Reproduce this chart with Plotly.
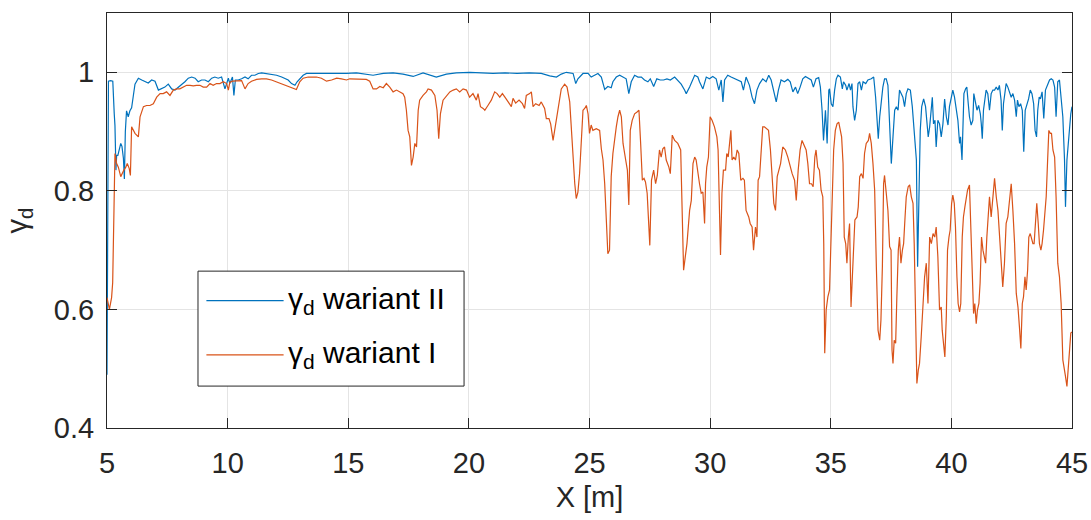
import plotly.graph_objects as go

# gamma_d, variant II (blue)
X_II = [5.00, 5.03, 5.06, 5.15, 5.24, 5.30, 5.33, 5.37, 5.40, 5.45, 5.50, 5.57, 5.62, 5.68, 5.72, 5.76, 5.81, 5.88,
        5.95, 6.02, 6.09, 6.16, 6.23, 6.30, 6.44, 6.57, 6.71, 6.85, 6.99, 7.13, 7.27, 7.40, 7.54, 7.68, 7.82, 7.96,
        8.09, 8.23, 8.37, 8.51, 8.65, 8.78, 8.92, 9.06, 9.20, 9.34, 9.47, 9.61, 9.75, 9.89, 10.03,
        10.09, 10.20, 10.26, 10.32, 10.44, 10.58, 10.72, 10.85, 10.99, 11.13, 11.27, 11.41, 11.61, 11.82, 12.03,
        12.24, 12.37, 12.51, 12.65, 12.79, 12.88, 12.99, 13.13, 13.27, 13.55, 13.82, 14.10, 14.38, 14.65, 14.93,
        15.34, 15.75, 16.03, 16.45, 16.86, 17.27, 17.69, 18.10, 18.65, 19.07, 19.48, 20.04,
        20.5, 21.0, 21.5, 22.0, 22.5, 23.0, 23.35, 23.63, 23.83, 24.04, 24.32, 24.43, 24.52, 24.73,
        24.94, 25.07, 25.21, 25.35, 25.49, 25.63, 25.76, 25.90, 25.97, 26.11, 26.25, 26.39, 26.52, 26.63, 26.73,
        26.87, 27.01, 27.15, 27.28, 27.42, 27.52, 27.66, 27.79, 27.93, 28.07, 28.21, 28.35, 28.53, 28.66, 28.80,
        28.94, 29.01, 29.15, 29.36, 29.49,
        29.56, 29.70, 29.84, 29.97, 30.11, 30.25, 30.36, 30.46, 30.53, 30.60, 30.73, 30.87, 31.01, 31.15, 31.29,
        31.38, 31.49, 31.63, 31.74, 31.84, 31.94, 32.05, 32.18, 32.32, 32.43, 32.53, 32.63, 32.74, 32.83, 32.94,
        33.08, 33.22, 33.32, 33.43, 33.54, 33.63, 33.73, 33.84, 33.95, 34.09, 34.19, 34.28, 34.39, 34.50, 34.57,
        34.64, 34.70, 34.78, 34.85, 34.92,
        34.95, 35.02, 35.09, 35.16, 35.23, 35.30, 35.40, 35.48, 35.53, 35.62, 35.67, 35.76, 35.82, 35.88, 35.92,
        35.99, 36.06, 36.13, 36.20, 36.27, 36.34, 36.45, 36.54, 36.68, 36.78, 36.86, 36.92, 36.97, 37.03, 37.10,
        37.16, 37.23, 37.30, 37.37, 37.44, 37.51, 37.58, 37.65, 37.72, 37.79, 37.85, 37.92, 37.99, 38.06, 38.13,
        38.20, 38.30, 38.38, 38.45, 38.50, 38.55, 38.60, 38.66, 38.71, 38.77, 38.85, 38.93, 38.99, 39.04, 39.10,
        39.15, 39.21, 39.26, 39.32, 39.37, 39.44,
        39.51, 39.58, 39.65, 39.72, 39.79, 39.86, 39.92, 39.99, 40.06, 40.13, 40.20, 40.27, 40.34, 40.38, 40.44,
        40.48, 40.52, 40.59, 40.64, 40.70, 40.75, 40.82, 40.89, 40.93, 40.99, 41.06, 41.13, 41.20, 41.24, 41.28,
        41.33, 41.39, 41.44, 41.51, 41.58, 41.65, 41.72, 41.79, 41.86, 41.93, 41.99, 42.06, 42.11, 42.16, 42.22,
        42.27, 42.34, 42.41, 42.48, 42.55, 42.62, 42.69, 42.74, 42.80, 42.87, 42.94, 43.00, 43.06, 43.13, 43.20,
        43.27, 43.34, 43.41, 43.47, 43.53, 43.58, 43.64, 43.69, 43.76, 43.83, 43.90, 43.96, 44.01, 44.07, 44.14,
        44.21, 44.28, 44.34, 44.41, 44.48, 44.55, 44.62, 44.69, 44.73, 44.79, 44.84, 44.90, 44.95, 45.00]
Y_II = [0.49, 0.95, 0.985, 0.986, 0.985, 0.93, 0.91, 0.835, 0.86, 0.86, 0.87, 0.88, 0.875, 0.855, 0.82, 0.90, 0.935,
        0.925, 0.935, 0.94, 0.96, 0.98, 0.985, 0.99, 0.987, 0.985, 0.982, 0.987, 0.985, 0.97, 0.972, 0.975, 0.98,
        0.972, 0.97, 0.975, 0.978, 0.984, 0.99, 0.992, 0.99, 0.984, 0.987, 0.987, 0.984, 0.99, 0.992, 0.99, 0.992,
        0.972, 0.99,
        0.981, 0.992, 0.961, 0.987, 0.987, 0.989, 0.992, 0.989, 0.995, 0.995, 0.998, 0.999, 0.998, 0.997, 0.995,
        0.992, 0.989, 0.987, 0.981, 0.978, 0.984, 0.989, 0.995, 0.998, 0.998, 0.997, 0.997, 0.998, 0.997, 0.998,
        0.999, 0.997, 0.995, 0.998, 0.999, 0.997, 0.993, 0.999, 0.992, 0.997, 0.999, 1.0,
        0.999, 0.998, 0.999, 0.998, 0.999, 0.998, 0.994, 0.992, 0.997, 1.0, 0.998, 0.981, 0.989, 0.998,
        0.998, 0.992, 0.995, 0.998, 0.992, 0.971, 0.976, 0.974, 0.984, 0.992, 0.995, 0.992, 0.989, 0.964, 0.984,
        0.995, 0.992, 0.992, 0.987, 0.984, 0.989, 0.976, 0.989, 0.987, 0.987, 0.989, 0.987, 0.992, 0.987, 0.980,
        0.970, 0.964, 0.975, 0.995, 0.992,
        0.984, 0.972, 0.992, 0.989, 0.993, 0.989, 0.970, 0.987, 0.950, 0.987, 0.995, 0.992, 0.989, 0.987, 0.984,
        0.970, 0.992, 0.978, 0.958, 0.947, 0.970, 0.981, 0.989, 0.984, 0.995, 0.987, 0.970, 0.950, 0.970, 0.987,
        0.984, 0.988, 0.984, 0.967, 0.975, 0.964, 0.975, 0.989, 0.993, 0.989, 0.987, 0.975, 0.989, 0.991, 0.975,
        0.936, 0.885, 0.936, 0.880, 0.970,
        0.972, 0.947, 0.942, 0.970, 0.989, 0.995, 0.992, 0.972, 0.984, 0.978, 0.970, 0.981, 0.970, 0.981, 0.942,
        0.919, 0.936, 0.981, 0.984, 0.970, 0.984, 0.981, 0.987, 0.989, 0.992, 0.958, 0.925, 0.888, 0.925, 0.953,
        0.975, 0.989, 0.989, 0.978, 0.913, 0.846, 0.891, 0.936, 0.942, 0.936, 0.970, 0.964, 0.958, 0.942, 0.964,
        0.972, 0.970, 0.942, 0.908, 0.869, 0.852, 0.672, 0.824, 0.902, 0.942, 0.955, 0.942, 0.919, 0.891, 0.908,
        0.936, 0.958, 0.913, 0.919, 0.874, 0.919,
        0.913, 0.891, 0.913, 0.955, 0.925, 0.911, 0.942, 0.958, 0.970, 0.958, 0.942, 0.919, 0.880, 0.891, 0.852,
        0.919, 0.964, 0.972, 0.975, 0.947, 0.925, 0.911, 0.919, 0.964, 0.947, 0.936, 0.944, 0.930, 0.913, 0.888,
        0.936, 0.958, 0.970, 0.964, 0.936, 0.964, 0.970, 0.970, 0.975, 0.970, 0.978, 0.953, 0.902, 0.947, 0.970,
        0.981, 0.975, 0.967, 0.958, 0.964, 0.953, 0.925, 0.953, 0.942, 0.947, 0.936, 0.866, 0.936, 0.944, 0.955,
        0.970, 0.964, 0.947, 0.902, 0.891, 0.936, 0.958, 0.955, 0.967, 0.922, 0.970, 0.978, 0.981, 0.987, 0.989,
        0.987, 0.975, 0.925, 0.984, 0.987, 0.958, 0.925, 0.852, 0.773, 0.852, 0.880, 0.919, 0.930, 0.942]

# gamma_d, variant I (orange)
X_I = [5.00, 5.10, 5.19, 5.235, 5.29, 5.33, 5.40, 5.47, 5.57, 5.62, 5.70, 5.78, 5.84, 5.92, 5.97, 6.02, 6.09, 6.16,
       6.23, 6.30, 6.37, 6.44, 6.51, 6.64, 6.78, 6.92, 7.06, 7.20, 7.33, 7.47, 7.61, 7.75, 7.89, 8.02, 8.16, 8.30,
       8.44, 8.58, 8.71, 8.85, 8.99, 9.13, 9.27, 9.40, 9.54, 9.68, 9.82, 9.96, 10.03,
       10.09, 10.20, 10.44, 10.58, 10.72, 10.85, 10.99, 11.20, 11.41, 11.61, 11.82, 12.03, 12.24, 12.44, 12.65,
       12.85, 12.99, 13.13, 13.34, 13.68, 13.89, 14.10, 14.31, 14.52, 14.72, 14.93,
       15.06, 15.48, 15.75, 15.89, 16.03, 16.17, 16.31, 16.45, 16.58, 16.72, 16.86, 17.00, 17.14, 17.27, 17.34,
       17.41, 17.48, 17.55, 17.62, 17.69, 17.76, 17.83, 17.90, 17.96, 18.10, 18.24, 18.31, 18.45, 18.59, 18.68,
       18.75, 18.82, 18.93, 19.07, 19.21, 19.35, 19.48, 19.62,
       19.76, 19.90, 20.03, 20.17, 20.31, 20.38, 20.48, 20.59, 20.66, 20.79, 20.93, 21.07, 21.17, 21.28, 21.39,
       21.53, 21.62, 21.76, 21.83, 21.94, 22.08, 22.22, 22.31, 22.38, 22.52, 22.59, 22.66, 22.77, 22.91, 23.00,
       23.14, 23.21, 23.32, 23.39, 23.49, 23.60, 23.69, 23.76, 23.83, 23.97, 24.07, 24.18, 24.29, 24.39, 24.45,
       24.52,
       24.59, 24.66, 24.73, 24.80, 24.87, 24.94, 25.00, 25.07, 25.14, 25.28, 25.42, 25.49, 25.56, 25.63, 25.69,
       25.76, 25.83, 25.90, 25.97, 26.04, 26.11, 26.18, 26.25, 26.32, 26.39, 26.50, 26.57, 26.63, 26.69, 26.77,
       26.87, 26.97, 27.05, 27.12, 27.19, 27.26, 27.32, 27.39, 27.46, 27.50, 27.57, 27.66, 27.74, 27.81, 27.90,
       27.97, 28.04, 28.11, 28.18, 28.29, 28.35, 28.43, 28.53, 28.66, 28.78, 28.84, 28.90, 28.98, 29.04, 29.15,
       29.22, 29.29, 29.36, 29.42, 29.49,
       29.56, 29.63, 29.70, 29.77, 29.81, 29.86, 29.93, 30.00, 30.08, 30.18, 30.28, 30.33, 30.39, 30.43, 30.49,
       30.55, 30.64, 30.69, 30.75, 30.80, 30.86, 30.91, 30.98, 31.05, 31.12, 31.19, 31.27, 31.36, 31.42, 31.49,
       31.60, 31.66, 31.74, 31.80, 31.88, 31.94, 31.99, 32.05, 32.12, 32.18, 32.25, 32.32, 32.42, 32.50, 32.57,
       32.64, 32.71, 32.78, 32.85, 32.92, 33.01, 33.12, 33.22, 33.32, 33.40, 33.50, 33.57, 33.65, 33.73, 33.81,
       33.91, 33.98, 34.05, 34.12, 34.20, 34.27, 34.34, 34.39, 34.46, 34.53, 34.60, 34.67, 34.71, 34.75, 34.81,
       34.88, 34.95,
       35.02, 35.06, 35.12, 35.19, 35.26, 35.33, 35.40, 35.45, 35.51, 35.56, 35.62, 35.67, 35.73, 35.78, 35.84,
       35.89, 35.95, 36.00, 36.09, 36.14, 36.20, 36.27, 36.34, 36.40, 36.47, 36.56, 36.61, 36.68, 36.75, 36.82,
       36.89, 36.96, 37.03, 37.08, 37.14, 37.19, 37.23, 37.30, 37.37, 37.44, 37.50, 37.54, 37.58, 37.63, 37.69,
       37.74, 37.80, 37.85, 37.91, 37.97, 38.02, 38.08, 38.13, 38.21, 38.27, 38.34, 38.41, 38.46, 38.52, 38.57,
       38.63, 38.68, 38.75, 38.82, 38.89, 38.96, 39.03, 39.10, 39.17, 39.24, 39.31, 39.37, 39.44,
       39.51, 39.58, 39.62, 39.68, 39.73, 39.79, 39.84, 39.90, 39.95, 40.01, 40.06, 40.12, 40.17, 40.23, 40.28,
       40.34, 40.39, 40.45, 40.50, 40.56, 40.61, 40.67, 40.75, 40.81, 40.86, 40.92, 40.97, 41.03, 41.08, 41.14,
       41.19, 41.25, 41.31, 41.36, 41.42, 41.47, 41.53, 41.58, 41.65, 41.72, 41.79, 41.86, 41.93, 42.00, 42.07,
       42.13, 42.20, 42.27, 42.34, 42.41, 42.48, 42.55, 42.62, 42.69, 42.76, 42.82, 42.88, 42.94, 42.99, 43.05,
       43.10, 43.16, 43.21, 43.27, 43.32, 43.38, 43.43, 43.49, 43.54, 43.60, 43.65, 43.71, 43.76, 43.82, 43.87,
       43.93, 43.99, 44.04, 44.10, 44.15, 44.21, 44.28, 44.34, 44.41, 44.48, 44.55, 44.62, 44.67, 44.73, 44.79,
       44.84, 44.90, 44.95, 45.00]
Y_I = [0.62, 0.60, 0.62, 0.645, 0.77, 0.863, 0.846, 0.840, 0.824, 0.829, 0.835, 0.840, 0.846, 0.838, 0.826, 0.908,
       0.902, 0.897, 0.894, 0.891, 0.925, 0.936, 0.942, 0.944, 0.944, 0.947, 0.958, 0.964, 0.964, 0.967, 0.961,
       0.970, 0.972, 0.972, 0.975, 0.978, 0.978, 0.977, 0.978, 0.978, 0.975, 0.975, 0.981, 0.978, 0.981, 0.981,
       0.984, 0.981, 0.970,
       0.983, 0.985, 0.985, 0.986, 0.972, 0.981, 0.985, 0.988, 0.989, 0.989, 0.987, 0.984, 0.981, 0.978, 0.975,
       0.971, 0.984, 0.99, 0.992, 0.992, 0.99, 0.985, 0.987, 0.99, 0.989, 0.987,
       0.989, 0.989, 0.988, 0.985, 0.972, 0.972, 0.976, 0.974, 0.981, 0.975, 0.967, 0.970, 0.967, 0.964, 0.958,
       0.936, 0.902, 0.891, 0.843, 0.857, 0.880, 0.874, 0.936, 0.953, 0.961, 0.967, 0.972, 0.970, 0.961, 0.936,
       0.888, 0.930, 0.953, 0.961, 0.967, 0.970, 0.972, 0.967,
       0.972, 0.970, 0.958, 0.964, 0.953, 0.964, 0.942, 0.939, 0.936, 0.944, 0.953, 0.967, 0.964, 0.958, 0.964,
       0.956, 0.950, 0.942, 0.956, 0.948, 0.953, 0.947, 0.939, 0.961, 0.964, 0.967, 0.942, 0.947, 0.944, 0.950,
       0.939, 0.922, 0.922, 0.913, 0.885, 0.913, 0.942, 0.958, 0.972, 0.980, 0.975, 0.950, 0.869, 0.812, 0.787,
       0.798,
       0.83, 0.891, 0.936, 0.939, 0.944, 0.930, 0.897, 0.911, 0.902, 0.905, 0.902, 0.871, 0.852, 0.812, 0.767,
       0.694, 0.700, 0.824, 0.863, 0.891, 0.908, 0.925, 0.936, 0.925, 0.880, 0.852, 0.835, 0.776, 0.902, 0.919,
       0.930, 0.933, 0.936, 0.880, 0.818, 0.821, 0.815, 0.796, 0.751, 0.708, 0.818, 0.835, 0.812, 0.826, 0.869,
       0.857, 0.871, 0.874, 0.852, 0.840, 0.829, 0.894, 0.885, 0.880, 0.869, 0.767, 0.666, 0.692, 0.711, 0.767,
       0.784, 0.846, 0.857, 0.852, 0.829,
       0.812, 0.796, 0.798, 0.745, 0.812, 0.840, 0.857, 0.925, 0.919, 0.908, 0.891, 0.869, 0.767, 0.692, 0.796,
       0.835, 0.835, 0.863, 0.857, 0.880, 0.902, 0.852, 0.857, 0.852, 0.869, 0.863, 0.818, 0.821, 0.818, 0.767,
       0.756, 0.745, 0.739, 0.700, 0.739, 0.722, 0.818, 0.824, 0.869, 0.908, 0.908, 0.905, 0.902, 0.869, 0.824,
       0.779, 0.767, 0.824, 0.835, 0.846, 0.874, 0.869, 0.857, 0.840, 0.829, 0.818, 0.784, 0.835, 0.869, 0.885,
       0.877, 0.869, 0.846, 0.812, 0.812, 0.807, 0.857, 0.869, 0.840, 0.835, 0.801, 0.790, 0.711, 0.526, 0.599,
       0.621, 0.633,
       0.717, 0.767, 0.869, 0.902, 0.913, 0.916, 0.902, 0.891, 0.846, 0.722, 0.711, 0.678, 0.722, 0.745, 0.604,
       0.655, 0.717, 0.751, 0.756, 0.773, 0.824, 0.829, 0.821, 0.863, 0.880, 0.885, 0.897, 0.880, 0.846, 0.801,
       0.672, 0.565, 0.548, 0.582, 0.672, 0.812, 0.826, 0.790, 0.767, 0.706, 0.700, 0.531, 0.509, 0.548, 0.543,
       0.621, 0.700, 0.722, 0.678, 0.700, 0.711, 0.756, 0.790, 0.807, 0.810, 0.790, 0.779, 0.711, 0.599, 0.475,
       0.498, 0.509, 0.554, 0.604, 0.655, 0.678, 0.610, 0.722, 0.711, 0.728, 0.722, 0.739, 0.689,
       0.599, 0.604, 0.565, 0.543, 0.520, 0.588, 0.700, 0.722, 0.734, 0.779, 0.793, 0.779, 0.739, 0.655, 0.610,
       0.596, 0.610, 0.722, 0.756, 0.773, 0.790, 0.801, 0.810, 0.722, 0.644, 0.593, 0.610, 0.576, 0.599, 0.610,
       0.644, 0.722, 0.700, 0.689, 0.678, 0.722, 0.767, 0.790, 0.756, 0.796, 0.821, 0.790, 0.767, 0.722, 0.666,
       0.638, 0.678, 0.745, 0.756, 0.779, 0.812, 0.767, 0.711, 0.627, 0.604, 0.571, 0.534, 0.610, 0.621, 0.655,
       0.633, 0.666, 0.722, 0.728, 0.722, 0.711, 0.711, 0.745, 0.779, 0.745, 0.711, 0.700, 0.711, 0.734, 0.756,
       0.790, 0.852, 0.902, 0.897, 0.897, 0.869, 0.857, 0.790, 0.678, 0.655, 0.610, 0.515, 0.498, 0.487, 0.470,
       0.498, 0.543, 0.560, 0.562]

SERIES_NAMES = ["γ<sub>d</sub> wariant II", "γ<sub>d</sub> wariant I"]
SERIES_COLORS = ["#0072BD", "#D95319"]

X_RANGE = [5, 45]
Y_RANGE = [0.4, 1.1]

FONT = "Liberation Sans, Helvetica, Arial, sans-serif"
INK = "#262626"

fig = go.Figure()
for xs, ys, name, color in [(X_II, Y_II, SERIES_NAMES[0], SERIES_COLORS[0]),
                            (X_I, Y_I, SERIES_NAMES[1], SERIES_COLORS[1])]:
    fig.add_trace(go.Scatter(x=xs, y=ys, mode="lines", name=name,
                             line=dict(color=color, width=1.2), showlegend=False))

# MATLAB-style legend box drawn by hand (longer line samples than plotly's legend)
LEG = dict(x0=0.0943, x1=0.370, y0=0.101, y1=0.378)
fig.add_shape(type="rect", xref="paper", yref="paper", **LEG,
              line=dict(color=INK, width=1), fillcolor="white", layer="above")
for i, y in enumerate([0.307, 0.176]):
    fig.add_shape(type="line", xref="paper", yref="paper", x0=0.103, x1=0.183, y0=y, y1=y,
                  line=dict(color=SERIES_COLORS[i], width=1.2), layer="above")
    fig.add_annotation(xref="paper", yref="paper", x=0.185, y=y, xanchor="left", yanchor="middle",
                       text=SERIES_NAMES[i], showarrow=False,
                       font=dict(family=FONT, size=30, color="black"))

axis_common = dict(
    showline=True, linecolor=INK, linewidth=1, mirror="ticks",
    ticks="inside", ticklen=10, tickcolor=INK, tickwidth=1,
    showgrid=True, gridcolor="#e4e4e4", gridwidth=1, zeroline=False,
    automargin=False, ticklabeloverflow="allow",
    tickfont=dict(family=FONT, size=29, color=INK),
)

fig.update_layout(
    width=1091, height=520,
    margin=dict(l=107, r=19, t=13, b=92),
    paper_bgcolor="white", plot_bgcolor="white",
    font=dict(family=FONT, color=INK),
    xaxis=dict(range=X_RANGE, dtick=5, tick0=5, ticklabelstandoff=9,
               title=dict(text="X [m]", font=dict(family=FONT, size=29, color=INK), standoff=8),
               **axis_common),
    yaxis=dict(range=Y_RANGE, dtick=0.2, tick0=0.4, ticklabelstandoff=6,
               title=dict(text="γ<sub>d</sub>", font=dict(family=FONT, size=29, color=INK), standoff=17),
               **axis_common),
)

# drop the page's default 8 px body margin so the figure fills the window exactly
fig.write_html("out.html", config={"displayModeBar": False},
               post_script="document.body.style.margin = '0';")
